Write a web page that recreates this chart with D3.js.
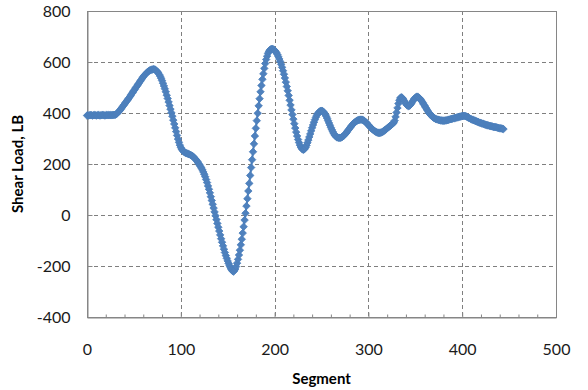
<!DOCTYPE html>
<html>
<head>
<meta charset="utf-8">
<script src="https://cdn.jsdelivr.net/npm/d3@7"></script>
<style>
  html, body { margin: 0; padding: 0; background: #fff; }
  svg { display: block; font-family: Lato, "Open Sans", sans-serif; }
</style>
</head>
<body>
<svg id="chart" width="588" height="390"></svg>
<script>
// shear load per segment (segment = index)
const shearLoad = [
  390, 391, 390, 391, 392, 391, 390, 391, 392, 391,
  390, 391, 392, 391, 390, 391, 392, 392, 391, 390,
  391, 392, 391, 392, 391, 392, 391, 392, 392, 393,
  393, 395, 398, 402, 406, 410, 415, 420, 425, 430,
  435, 440, 445, 450, 455, 460, 466, 471, 477, 482,
  488, 493, 499, 504, 510, 515, 521, 526, 531, 537,
  542, 547, 551, 555, 559, 562, 565, 567, 569, 570,
  571, 572, 571, 569, 566, 562, 557, 551, 544, 536,
  527, 517, 506, 495, 483, 470, 457, 443, 429, 415,
  401, 387, 372, 357, 342, 327, 312, 298, 285, 274,
  265, 258, 253, 249, 246, 244, 242, 241, 239, 238,
  236, 234, 232, 229, 226, 222, 218, 213, 208, 202,
  196, 190, 184, 177, 169, 160, 150, 139, 127, 114,
  101, 87, 72, 57, 42, 27, 12, -3, -18, -33,
  -48, -63, -78, -93, -107, -121, -134, -147, -159, -170,
  -180, -190, -199, -207, -214, -219, -222, -219, -212, -202,
  -189, -174, -157, -138, -117, -95, -71, -46, -20, 7,
  35, 64, 94, 124, 155, 186, 217, 248, 279, 310,
  340, 370, 399, 428, 456, 483, 508, 532, 554, 575,
  594, 610, 623, 634, 642, 647, 650, 651, 651, 649,
  646, 642, 636, 629, 621, 612, 602, 591, 579, 566,
  552, 537, 521, 504, 487, 469, 450, 431, 412, 394,
  376, 358, 341, 325, 310, 296, 284, 274, 266, 260,
  257, 256, 259, 265, 273, 283, 294, 306, 318, 330,
  342, 353, 364, 374, 383, 391, 397, 402, 406, 408,
  409, 408, 405, 400, 394, 387, 379, 370, 361, 352,
  343, 335, 327, 320, 314, 309, 306, 304, 303, 303,
  303, 304, 306, 309, 312, 316, 320, 325, 330, 335,
  340, 345, 350, 354, 358, 362, 365, 368, 370, 372,
  373, 374, 374, 374, 373, 371, 368, 365, 361, 357,
  353, 349, 345, 341, 337, 334, 331, 328, 326, 324,
  323, 322, 322, 323, 324, 326, 328, 331, 334, 337,
  340, 343, 346, 349, 352, 355, 358, 362, 370, 385,
  402, 420, 437, 450, 459, 462, 460, 455, 449, 442,
  436, 431, 428, 427, 429, 433, 439, 445, 451, 456,
  460, 463, 464, 463, 460, 456, 451, 446, 440, 434,
  428, 422, 416, 410, 404, 399, 394, 390, 386, 383,
  380, 378, 376, 375, 374, 373, 372, 371, 371, 370,
  370, 370, 371, 371, 372, 373, 374, 375, 376, 377,
  378, 379, 380, 381, 382, 383, 384, 385, 386, 387,
  388, 388, 389, 388, 387, 385, 383, 381, 379, 377,
  375, 374, 372, 371, 369, 368, 366, 365, 363, 362,
  361, 359, 358, 357, 355, 354, 353, 352, 351, 350,
  349, 348, 347, 346, 345, 345, 344, 343, 342, 341,
  340, 340, 339, 338, 337
];
const segments = shearLoad.map((d, i) => i);

const xTicks = [0, 100, 200, 300, 400, 500];
const xMinorTicks = [20, 40, 60, 80, 120, 140, 160, 180, 220, 240, 260, 280, 320, 340, 360, 380, 420, 440, 460, 480];
const yTicks = [-400, -200, 0, 200, 400, 600, 800];

const xTitle = "Segment";
const yTitle = "Shear Load, LB";

const data = segments.map((s, i) => ({ segment: s, load: shearLoad[i] }));

const svg = d3.select("#chart");
const plotLeft = 87, plotRight = 556, plotTop = 11, plotBottom = 317;

const x = d3.scaleLinear().domain([0, 500]).range([plotLeft, plotRight]);
const y = d3.scaleLinear().domain([-400, 800]).range([plotBottom, plotTop]);

// dashed grid
const grid = svg.append("g").attr("stroke", "#7f7f7f").attr("stroke-dasharray", "4,3").attr("stroke-width", 1);
grid.selectAll("line.h")
  .data(yTicks.slice(1, -1))
  .join("line")
  .attr("class", "h")
  .attr("x1", plotLeft).attr("x2", plotRight)
  .attr("y1", (d) => Math.round(y(d)) + 0.5)
  .attr("y2", (d) => Math.round(y(d)) + 0.5);
grid.selectAll("line.v")
  .data(xTicks.slice(1, -1))
  .join("line")
  .attr("class", "v")
  .attr("y1", plotTop).attr("y2", plotBottom)
  .attr("x1", (d) => Math.round(x(d)) + 0.5)
  .attr("x2", (d) => Math.round(x(d)) + 0.5);

// plot frame
svg.append("rect")
  .attr("x", plotLeft + 0.5).attr("y", plotTop + 0.5)
  .attr("width", plotRight - plotLeft).attr("height", plotBottom - plotTop)
  .attr("fill", "none")
  .attr("stroke", "#868686");

// axes (plain hyphen for negatives, like the original)
const fmt = (d) => String(d);
svg.append("g")
  .attr("transform", `translate(${plotLeft + 0.5},0)`)
  .call(d3.axisLeft(y).tickValues(yTicks).tickFormat(fmt).tickSize(-5).tickPadding(17));
svg.append("g")
  .attr("transform", `translate(0,${plotBottom + 0.5})`)
  .call(d3.axisBottom(x).tickValues(xTicks).tickFormat(fmt).tickSize(-5).tickPadding(26));
svg.append("g")
  .attr("transform", `translate(0,${plotBottom + 0.5})`)
  .call(d3.axisBottom(x).tickValues(xMinorTicks).tickSize(-3).tickFormat(""))
  .call((g) => g.select(".domain").remove());

svg.selectAll(".domain").attr("stroke", "#868686");
svg.selectAll(".tick line").attr("stroke", "#868686");
svg.selectAll(".tick text").attr("font-size", 16).attr("fill", "#1a1a1a").attr("font-family", "Lato, sans-serif");

// axis titles
svg.append("text")
  .attr("x", (plotLeft + plotRight) / 2)
  .attr("y", 384)
  .attr("text-anchor", "middle")
  .attr("font-size", 15)
  .attr("font-weight", "bold")
  .text(xTitle);
svg.append("text")
  .attr("transform", `translate(23,${(plotTop + plotBottom) / 2}) rotate(-90)`)
  .attr("text-anchor", "middle")
  .attr("font-size", 15)
  .attr("font-weight", "bold")
  .text(yTitle);

// series line + diamond markers
const line = d3.line()
  .x((d) => x(d.segment))
  .y((d) => y(d.load));

svg.append("path")
  .datum(data)
  .attr("fill", "none")
  .attr("stroke", "#4A7EBB")
  .attr("stroke-width", 2)
  .attr("d", line);

const diamond = d3.symbol().type(d3.symbolSquare).size(28);
svg.append("g")
  .selectAll("path")
  .data(data)
  .join("path")
  .attr("d", diamond)
  .attr("transform", (d) => `translate(${x(d.segment)},${y(d.load)}) rotate(45)`)
  .attr("fill", "#4F81BD")
  .attr("stroke", "#4A7EBB")
  .attr("stroke-width", 0.75);
</script>
</body>
</html>
